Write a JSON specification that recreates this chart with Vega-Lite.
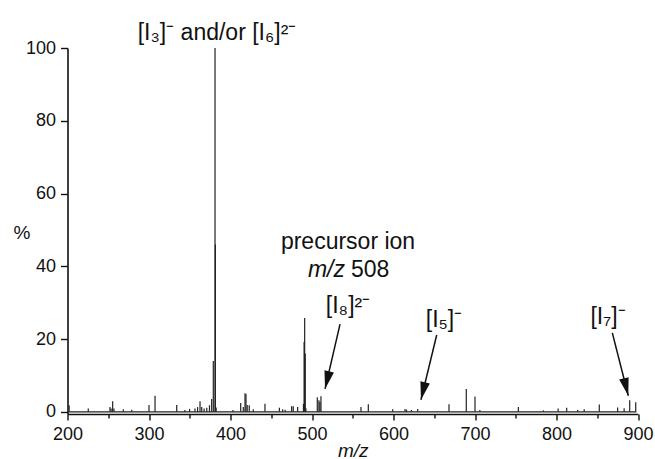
{
  "$schema": "https://vega.github.io/schema/vega-lite/v6.json",
  "width": 570.5,
  "height": 366,
  "autosize": {"type": "none"},
  "padding": {"left": 67.5, "top": 48, "right": 17, "bottom": 45},
  "background": "white",
  "config": {
    "view": {"stroke": null},
    "font": "Liberation Sans",
    "axis": {
      "domainColor": "#111",
      "domainWidth": 1.6,
      "tickColor": "#111",
      "tickWidth": 1.4,
      "labelFont": "Liberation Sans",
      "labelFontSize": 18,
      "labelColor": "#111",
      "titleFont": "Liberation Sans",
      "titleFontSize": 19,
      "titleFontWeight": "normal",
      "titleColor": "#111",
      "grid": false
    }
  },
  "datasets": {
    "peaks": [
      {"mz": 202, "intensity": 1.8}, {"mz": 225.5, "intensity": 0.9}, {"mz": 252.1, "intensity": 1.3},
      {"mz": 253.5, "intensity": 0.9}, {"mz": 255.4, "intensity": 2.9}, {"mz": 257, "intensity": 0.9},
      {"mz": 268.5, "intensity": 0.7}, {"mz": 278.8, "intensity": 0.6}, {"mz": 300, "intensity": 1.9},
      {"mz": 307.4, "intensity": 4.4}, {"mz": 334, "intensity": 1.9}, {"mz": 344, "intensity": 0.5},
      {"mz": 349.8, "intensity": 0.8}, {"mz": 356.4, "intensity": 0.9}, {"mz": 359.6, "intensity": 1.3},
      {"mz": 362.6, "intensity": 2.9}, {"mz": 364.7, "intensity": 1.3}, {"mz": 367.6, "intensity": 0.9},
      {"mz": 370.9, "intensity": 1.1}, {"mz": 374.2, "intensity": 1.8}, {"mz": 376.9, "intensity": 3.5},
      {"mz": 378.9, "intensity": 14}, {"mz": 381, "intensity": 100}, {"mz": 381.5, "intensity": 46},
      {"mz": 382.4, "intensity": 1.2}, {"mz": 403, "intensity": 0.5}, {"mz": 412.5, "intensity": 2.4},
      {"mz": 415.7, "intensity": 1.3}, {"mz": 417.8, "intensity": 5.1}, {"mz": 419, "intensity": 4.9},
      {"mz": 420.5, "intensity": 1.9}, {"mz": 423, "intensity": 1.8}, {"mz": 427.9, "intensity": 0.7},
      {"mz": 442.3, "intensity": 2.2}, {"mz": 460, "intensity": 1.1}, {"mz": 464, "intensity": 0.7},
      {"mz": 467, "intensity": 0.6}, {"mz": 475, "intensity": 1.5}, {"mz": 477, "intensity": 1.5},
      {"mz": 482.4, "intensity": 1.3}, {"mz": 489.5, "intensity": 2.2}, {"mz": 490.3, "intensity": 19.2},
      {"mz": 491, "intensity": 25.8}, {"mz": 491.7, "intensity": 16}, {"mz": 492.5, "intensity": 1},
      {"mz": 506.5, "intensity": 4}, {"mz": 508.5, "intensity": 3.2}, {"mz": 509.7, "intensity": 2.7},
      {"mz": 511, "intensity": 4.3}, {"mz": 560.1, "intensity": 1.3}, {"mz": 569.1, "intensity": 2.1},
      {"mz": 599, "intensity": 0.7}, {"mz": 614.1, "intensity": 0.8}, {"mz": 616, "intensity": 0.6},
      {"mz": 622, "intensity": 0.5}, {"mz": 629.7, "intensity": 0.8}, {"mz": 668.1, "intensity": 2.1},
      {"mz": 689.3, "intensity": 6.3}, {"mz": 700, "intensity": 4.2}, {"mz": 706, "intensity": 0.5},
      {"mz": 753.2, "intensity": 1.3}, {"mz": 784, "intensity": 0.4}, {"mz": 802, "intensity": 0.9},
      {"mz": 812.5, "intensity": 1.1}, {"mz": 826, "intensity": 0.5}, {"mz": 834, "intensity": 0.7},
      {"mz": 852.5, "intensity": 2.0}, {"mz": 875, "intensity": 1.2}, {"mz": 883, "intensity": 1.0},
      {"mz": 889.8, "intensity": 3.2}, {"mz": 897.2, "intensity": 2.6}
    ],
    "baseline": [{"from": 201, "to": 898, "level": 0}],
    "arrows": [
      {"ion": "I8", "x1": 534.4, "y1": 24.1, "x2": 516, "y2": 6.3},
      {"ion": "I5", "x1": 653, "y1": 21.1, "x2": 633.7, "y2": 3.3},
      {"ion": "I7", "x1": 868.5, "y1": 21.7, "x2": 888.1, "y2": 4.4}
    ],
    "labels": [
      {"mz": 383.4, "level": 102.2, "text": "[I₃]⁻ and/or [I₆]²⁻"},
      {"mz": 544.2, "level": 44.75, "text": "precursor ion"},
      {"mz": 544.2, "level": 27.2, "text": "[I₈]²⁻"},
      {"mz": 662, "level": 23.3, "text": "[I₅]⁻"},
      {"mz": 863.2, "level": 24.2, "text": "[I₇]⁻"}
    ],
    "mzlabel": [{"mz": 540.5, "level": 37.05, "text": "m/z"}],
    "numlabel": [{"mz": 547.8, "level": 37.05, "text": "508"}]
  },
  "layer": [
    {
      "data": {"name": "peaks"},
      "mark": {"type": "rule", "color": "#222", "strokeWidth": 1.2},
      "encoding": {
        "x": {
          "field": "mz", "type": "quantitative",
          "scale": {"domain": [200, 900], "nice": false, "zero": false},
          "axis": {
            "title": "m/z", "titleFontStyle": "italic",
            "values": [200, 250, 300, 350, 400, 450, 500, 550, 600, 650, 700, 750, 800, 850, 900],
            "labelExpr": "datum.value % 100 === 0 ? datum.label : ''",
            "tickSize": {"condition": {"test": "datum.value % 100 === 0", "value": 6}, "value": 4},
            "labelPadding": 5,
            "labelFlush": false,
            "labelOverlap": false,
            "titleY": 42,
            "titleBaseline": "alphabetic"
          }
        },
        "y": {
          "field": "intensity", "type": "quantitative",
          "scale": {"domain": [-0.6, 100], "nice": false, "zero": false},
          "axis": {
            "title": "%", "titleAngle": 0, "titleAlign": "center", "titleBaseline": "middle",
            "titleX": -46, "titleY": 184,
            "values": [0, 10, 20, 30, 40, 50, 60, 70, 80, 90, 100],
            "labelExpr": "datum.value % 20 === 0 ? datum.label : ''",
            "tickSize": {"condition": {"test": "datum.value % 20 === 0", "value": 7}, "value": 4},
            "labelPadding": 5,
            "labelOverlap": false,
            "labelFlush": false
          }
        },
        "y2": {"datum": 0}
      }
    },
    {
      "data": {"name": "baseline"},
      "mark": {"type": "rule", "color": "#222", "strokeWidth": 1.3},
      "encoding": {
        "x": {"field": "from", "type": "quantitative"},
        "x2": {"field": "to"},
        "y": {"field": "level", "type": "quantitative"}
      }
    },
    {
      "data": {"name": "arrows"},
      "mark": {"type": "rule", "color": "#111", "strokeWidth": 1.5},
      "encoding": {
        "x": {"field": "x1", "type": "quantitative"},
        "y": {"field": "y1", "type": "quantitative"},
        "x2": {"field": "x2"},
        "y2": {"field": "y2"}
      }
    },
    {
      "data": {"name": "arrows"},
      "transform": [{"filter": "datum.ion !== 'I7'"}],
      "mark": {"type": "point", "shape": "M0,0L-0.27,-1L0.27,-1Z", "filled": true, "color": "#111", "opacity": 1, "size": 1296, "angle": 13.4},
      "encoding": {
        "x": {"field": "x2", "type": "quantitative"},
        "y": {"field": "y2", "type": "quantitative"}
      }
    },
    {
      "data": {"name": "arrows"},
      "transform": [{"filter": "datum.ion === 'I7'"}],
      "mark": {"type": "point", "shape": "M0,0L-0.27,-1L0.27,-1Z", "filled": true, "color": "#111", "opacity": 1, "size": 1296, "angle": -14.2},
      "encoding": {
        "x": {"field": "x2", "type": "quantitative"},
        "y": {"field": "y2", "type": "quantitative"}
      }
    },
    {
      "data": {"name": "labels"},
      "mark": {"type": "text", "font": "Liberation Sans", "fontSize": 23, "color": "#111", "align": "center", "baseline": "alphabetic"},
      "encoding": {
        "x": {"field": "mz", "type": "quantitative"},
        "y": {"field": "level", "type": "quantitative"},
        "text": {"field": "text"}
      }
    },
    {
      "data": {"name": "mzlabel"},
      "mark": {"type": "text", "font": "Liberation Sans", "fontSize": 23, "fontStyle": "italic", "color": "#111", "align": "right", "baseline": "alphabetic"},
      "encoding": {
        "x": {"field": "mz", "type": "quantitative"},
        "y": {"field": "level", "type": "quantitative"},
        "text": {"field": "text"}
      }
    },
    {
      "data": {"name": "numlabel"},
      "mark": {"type": "text", "font": "Liberation Sans", "fontSize": 23, "color": "#111", "align": "left", "baseline": "alphabetic"},
      "encoding": {
        "x": {"field": "mz", "type": "quantitative"},
        "y": {"field": "level", "type": "quantitative"},
        "text": {"field": "text"}
      }
    }
  ]
}
